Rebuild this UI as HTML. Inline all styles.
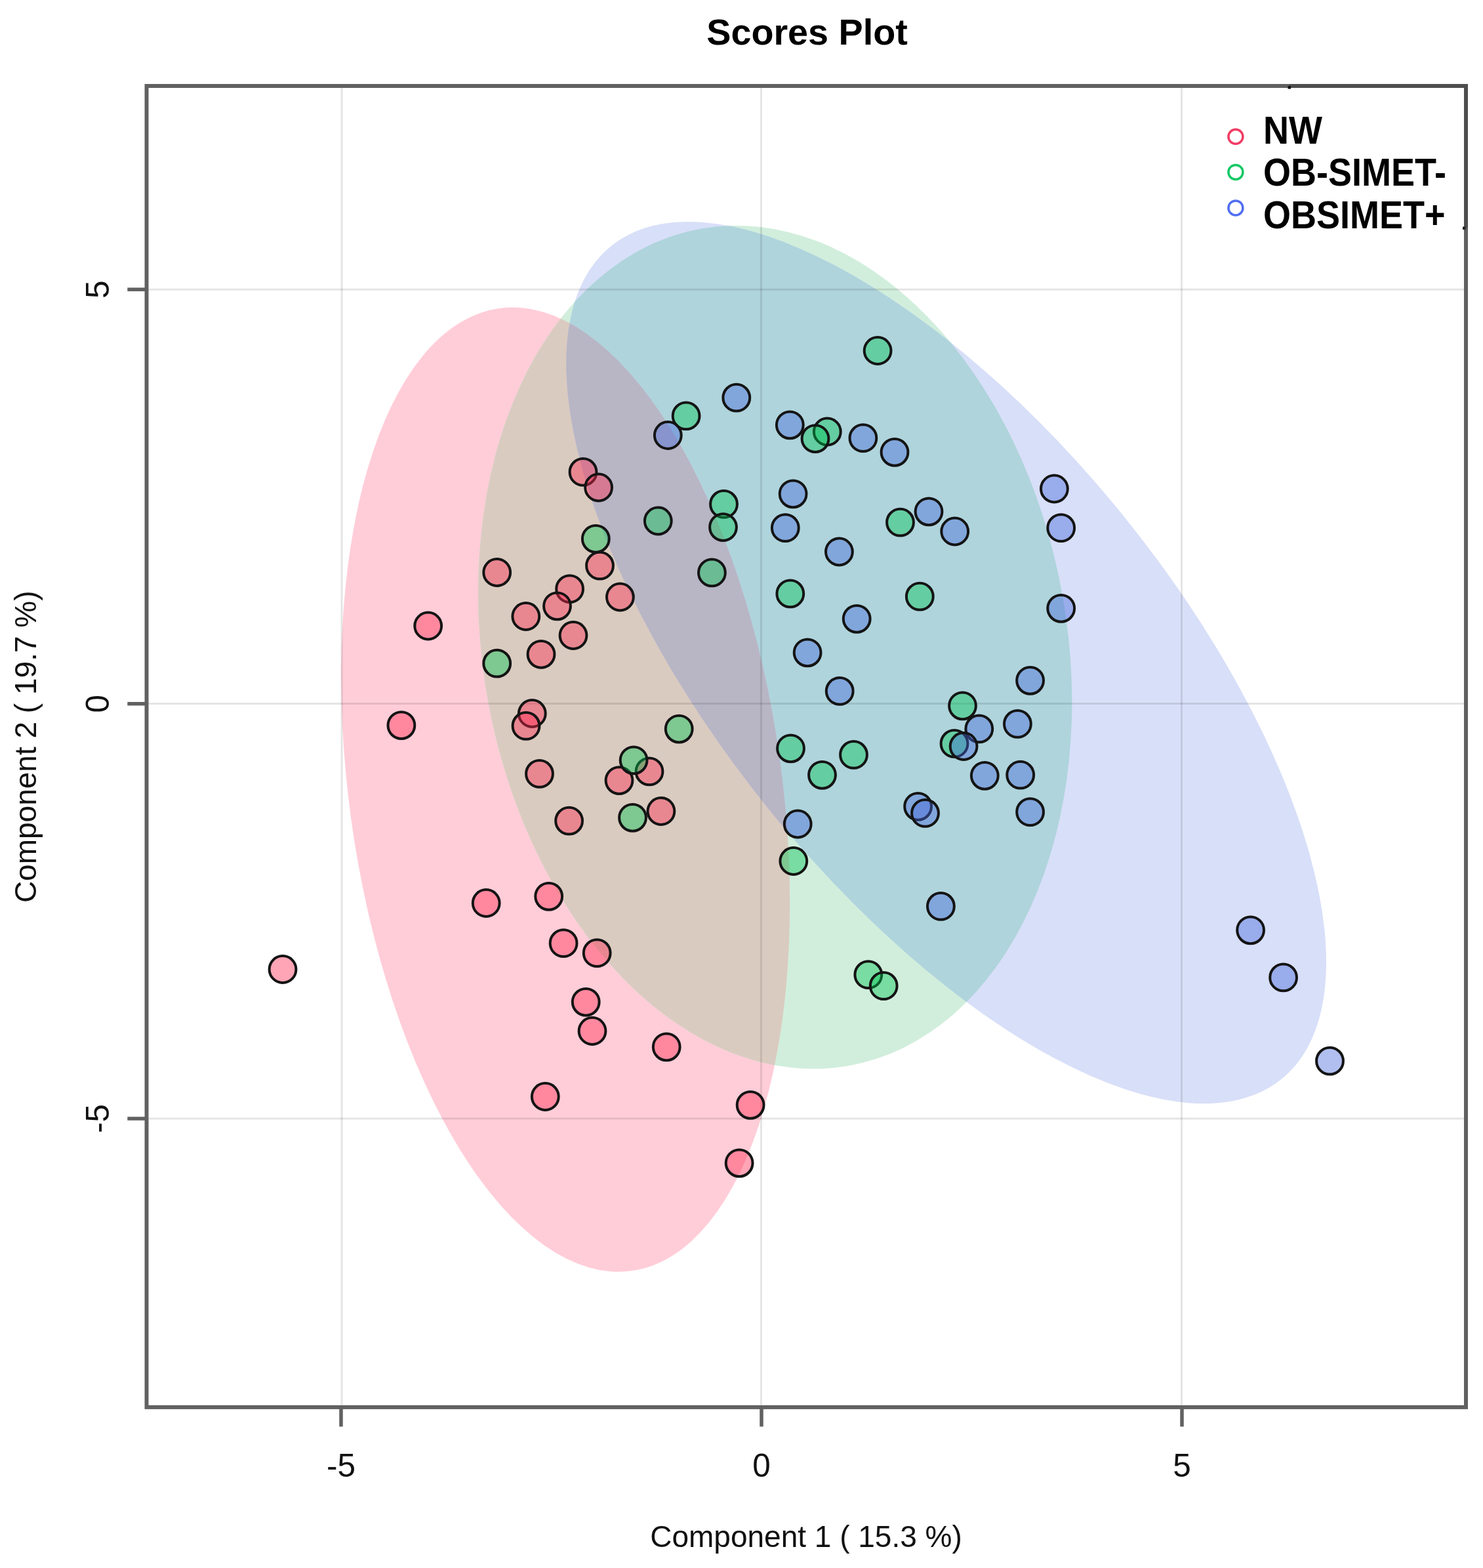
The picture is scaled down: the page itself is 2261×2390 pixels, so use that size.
<!DOCTYPE html>
<html><head><meta charset="utf-8"><title>Scores Plot</title><style>html,body{margin:0;padding:0;background:#fff;}svg{display:block;}</style></head>
<body>
<svg xmlns="http://www.w3.org/2000/svg" xmlns:xlink="http://www.w3.org/1999/xlink" width="2261" height="2390" viewBox="0 0 2261 2390">
<rect width="2261" height="2390" fill="#fff"/>
<defs>
<ellipse id="eP" cx="862.21" cy="1203.52" rx="329.93" ry="740.44" transform="rotate(172.184 862.21 1203.52)"/>
<ellipse id="eG" cx="1181.66" cy="986.52" rx="445.28" ry="647.75" transform="rotate(170.025 1181.66 986.52)"/>
<ellipse id="eB" cx="1442.65" cy="1010.04" rx="815.00" ry="350.79" transform="rotate(-128.809 1442.65 1010.04)"/>
<clipPath id="cP"><use href="#eP"/></clipPath><clipPath id="cG"><use href="#eG"/></clipPath>
</defs>
<use href="#eP" fill="#ffcdd8"/>
<use href="#eG" fill="#d1eedc"/>
<use href="#eB" fill="#d8dff8"/>
<g clip-path="url(#cP)"><use href="#eG" fill="#dacbc0"/></g>
<g clip-path="url(#cG)"><use href="#eB" fill="#afd4dc"/></g>
<g clip-path="url(#cP)"><use href="#eB" fill="#d8b8da"/></g>
<g clip-path="url(#cP)"><g clip-path="url(#cG)"><use href="#eB" fill="#b8b6c5"/></g></g>
<line x1="521" y1="131" x2="521" y2="2144.9" stroke="#000" stroke-opacity="0.1" stroke-width="3"/>
<line x1="1160.5" y1="131" x2="1160.5" y2="2144.9" stroke="#000" stroke-opacity="0.1" stroke-width="3"/>
<line x1="1801.5" y1="131" x2="1801.5" y2="2144.9" stroke="#000" stroke-opacity="0.1" stroke-width="3"/>
<line x1="223.5" y1="441.3" x2="2235" y2="441.3" stroke="#000" stroke-opacity="0.1" stroke-width="3"/>
<line x1="223.5" y1="1072.5" x2="2235" y2="1072.5" stroke="#000" stroke-opacity="0.1" stroke-width="3"/>
<line x1="223.5" y1="1705" x2="2235" y2="1705" stroke="#000" stroke-opacity="0.1" stroke-width="3"/>
<g stroke="#141414" stroke-width="4.0">
<circle cx="431" cy="1477.5" r="20.4" fill="#ff2951" fill-opacity="0.42"/>
<circle cx="611.9" cy="1105.6" r="20.4" fill="#ff2951" fill-opacity="0.42"/>
<circle cx="652.7" cy="954" r="20.4" fill="#ff2951" fill-opacity="0.42"/>
<circle cx="741.2" cy="1376.5" r="20.4" fill="#ff2951" fill-opacity="0.42"/>
<circle cx="757.7" cy="872.5" r="20.4" fill="#ff2951" fill-opacity="0.42"/>
<circle cx="801.8" cy="939.5" r="20.4" fill="#ff2951" fill-opacity="0.42"/>
<circle cx="811.3" cy="1087.5" r="20.4" fill="#ff2951" fill-opacity="0.42"/>
<circle cx="802" cy="1106.4" r="20.4" fill="#ff2951" fill-opacity="0.42"/>
<circle cx="825" cy="997.3" r="20.4" fill="#ff2951" fill-opacity="0.42"/>
<circle cx="822.5" cy="1179.4" r="20.4" fill="#ff2951" fill-opacity="0.42"/>
<circle cx="831.3" cy="1671.5" r="20.4" fill="#ff2951" fill-opacity="0.42"/>
<circle cx="836.7" cy="1366.3" r="20.4" fill="#ff2951" fill-opacity="0.42"/>
<circle cx="859.1" cy="1437.7" r="20.4" fill="#ff2951" fill-opacity="0.42"/>
<circle cx="868.6" cy="897.7" r="20.4" fill="#ff2951" fill-opacity="0.42"/>
<circle cx="849.5" cy="923.8" r="20.4" fill="#ff2951" fill-opacity="0.42"/>
<circle cx="874" cy="968.5" r="20.4" fill="#ff2951" fill-opacity="0.42"/>
<circle cx="867.6" cy="1251.2" r="20.4" fill="#ff2951" fill-opacity="0.42"/>
<circle cx="889" cy="719.4" r="20.4" fill="#ff2951" fill-opacity="0.42"/>
<circle cx="912.6" cy="743" r="20.4" fill="#ff2951" fill-opacity="0.42"/>
<circle cx="914.5" cy="862.2" r="20.4" fill="#ff2951" fill-opacity="0.42"/>
<circle cx="910.2" cy="1452.7" r="20.4" fill="#ff2951" fill-opacity="0.42"/>
<circle cx="893.2" cy="1527.3" r="20.4" fill="#ff2951" fill-opacity="0.42"/>
<circle cx="903" cy="1571.5" r="20.4" fill="#ff2951" fill-opacity="0.42"/>
<circle cx="945.4" cy="910" r="20.4" fill="#ff2951" fill-opacity="0.42"/>
<circle cx="944" cy="1189.6" r="20.4" fill="#ff2951" fill-opacity="0.42"/>
<circle cx="990" cy="1175.9" r="20.4" fill="#ff2951" fill-opacity="0.42"/>
<circle cx="1007.9" cy="1236.5" r="20.4" fill="#ff2951" fill-opacity="0.42"/>
<circle cx="1016.2" cy="1595.8" r="20.4" fill="#ff2951" fill-opacity="0.42"/>
<circle cx="1144.1" cy="1684.3" r="20.4" fill="#ff2951" fill-opacity="0.42"/>
<circle cx="1127.1" cy="1772.8" r="20.4" fill="#ff2951" fill-opacity="0.42"/>
<circle cx="757.7" cy="1011.2" r="20.4" fill="#00c352" fill-opacity="0.42"/>
<circle cx="908.3" cy="821.3" r="20.4" fill="#00c352" fill-opacity="0.42"/>
<circle cx="966.1" cy="1158.8" r="20.4" fill="#00c352" fill-opacity="0.42"/>
<circle cx="964.5" cy="1246.3" r="20.4" fill="#00c352" fill-opacity="0.42"/>
<circle cx="1003.3" cy="794" r="20.4" fill="#00c352" fill-opacity="0.42"/>
<circle cx="1035.2" cy="1111.1" r="20.4" fill="#00c352" fill-opacity="0.42"/>
<circle cx="1046.1" cy="633.9" r="20.4" fill="#00c352" fill-opacity="0.42"/>
<circle cx="1085.4" cy="872.9" r="20.4" fill="#00c352" fill-opacity="0.42"/>
<circle cx="1103.5" cy="768.4" r="20.4" fill="#00c352" fill-opacity="0.42"/>
<circle cx="1102.5" cy="803.6" r="20.4" fill="#00c352" fill-opacity="0.42"/>
<circle cx="1204.8" cy="904.9" r="20.4" fill="#00c352" fill-opacity="0.42"/>
<circle cx="1205.5" cy="1140.8" r="20.4" fill="#00c352" fill-opacity="0.42"/>
<circle cx="1209.8" cy="1312.5" r="20.4" fill="#00c352" fill-opacity="0.42"/>
<circle cx="1261.3" cy="658" r="20.4" fill="#00c352" fill-opacity="0.42"/>
<circle cx="1243" cy="668.6" r="20.4" fill="#00c352" fill-opacity="0.42"/>
<circle cx="1253.5" cy="1181.3" r="20.4" fill="#00c352" fill-opacity="0.42"/>
<circle cx="1301.5" cy="1150.4" r="20.4" fill="#00c352" fill-opacity="0.42"/>
<circle cx="1338.1" cy="534.5" r="20.4" fill="#00c352" fill-opacity="0.42"/>
<circle cx="1372.5" cy="796.2" r="20.4" fill="#00c352" fill-opacity="0.42"/>
<circle cx="1402.3" cy="909.2" r="20.4" fill="#00c352" fill-opacity="0.42"/>
<circle cx="1323.8" cy="1485.7" r="20.4" fill="#00c352" fill-opacity="0.42"/>
<circle cx="1347.2" cy="1502.7" r="20.4" fill="#00c352" fill-opacity="0.42"/>
<circle cx="1467.5" cy="1075.8" r="20.4" fill="#00c352" fill-opacity="0.42"/>
<circle cx="1455" cy="1133.4" r="20.4" fill="#00c352" fill-opacity="0.42"/>
<circle cx="1018.3" cy="663.5" r="20.4" fill="#4266da" fill-opacity="0.42"/>
<circle cx="1122.8" cy="606.2" r="20.4" fill="#4266da" fill-opacity="0.42"/>
<circle cx="1204.3" cy="647.8" r="20.4" fill="#4266da" fill-opacity="0.42"/>
<circle cx="1209.1" cy="752.8" r="20.4" fill="#4266da" fill-opacity="0.42"/>
<circle cx="1197.3" cy="804.7" r="20.4" fill="#4266da" fill-opacity="0.42"/>
<circle cx="1279.4" cy="841" r="20.4" fill="#4266da" fill-opacity="0.42"/>
<circle cx="1231.1" cy="994.8" r="20.4" fill="#4266da" fill-opacity="0.42"/>
<circle cx="1280.2" cy="1053.4" r="20.4" fill="#4266da" fill-opacity="0.42"/>
<circle cx="1306.2" cy="943.3" r="20.4" fill="#4266da" fill-opacity="0.42"/>
<circle cx="1315.9" cy="667.7" r="20.4" fill="#4266da" fill-opacity="0.42"/>
<circle cx="1364" cy="689.3" r="20.4" fill="#4266da" fill-opacity="0.42"/>
<circle cx="1416" cy="779.8" r="20.4" fill="#4266da" fill-opacity="0.42"/>
<circle cx="1455.7" cy="810" r="20.4" fill="#4266da" fill-opacity="0.42"/>
<circle cx="1216.2" cy="1256" r="20.4" fill="#4266da" fill-opacity="0.42"/>
<circle cx="1399.6" cy="1229.3" r="20.4" fill="#4266da" fill-opacity="0.42"/>
<circle cx="1410.5" cy="1239.4" r="20.4" fill="#4266da" fill-opacity="0.42"/>
<circle cx="1434.4" cy="1381.4" r="20.4" fill="#4266da" fill-opacity="0.42"/>
<circle cx="1492.8" cy="1110.9" r="20.4" fill="#4266da" fill-opacity="0.42"/>
<circle cx="1469.1" cy="1137.5" r="20.4" fill="#4266da" fill-opacity="0.42"/>
<circle cx="1501.3" cy="1182.3" r="20.4" fill="#4266da" fill-opacity="0.42"/>
<circle cx="1551.4" cy="1103.4" r="20.4" fill="#4266da" fill-opacity="0.42"/>
<circle cx="1555.7" cy="1181.2" r="20.4" fill="#4266da" fill-opacity="0.42"/>
<circle cx="1570.6" cy="1037.3" r="20.4" fill="#4266da" fill-opacity="0.42"/>
<circle cx="1570.6" cy="1237.7" r="20.4" fill="#4266da" fill-opacity="0.42"/>
<circle cx="1607.4" cy="745" r="20.4" fill="#4266da" fill-opacity="0.42"/>
<circle cx="1617.7" cy="804.7" r="20.4" fill="#4266da" fill-opacity="0.42"/>
<circle cx="1617.7" cy="927.3" r="20.4" fill="#4266da" fill-opacity="0.42"/>
<circle cx="1906.6" cy="1417.8" r="20.4" fill="#4266da" fill-opacity="0.42"/>
<circle cx="1956.6" cy="1489.9" r="20.4" fill="#4266da" fill-opacity="0.42"/>
<circle cx="2027.5" cy="1617.2" r="20.4" fill="#4266da" fill-opacity="0.42"/>
</g>
<rect x="223.5" y="131" width="2011.5" height="2013.9" fill="none" stroke="#616161" stroke-width="6"/>
<path d="M1966 131 H2235 V347" fill="none" stroke="#4e4e4e" stroke-width="6"/>
<line x1="520" y1="2144.9" x2="520" y2="2174.5" stroke="#616161" stroke-width="5.5"/>
<line x1="1161" y1="2144.9" x2="1161" y2="2174.5" stroke="#616161" stroke-width="5.5"/>
<line x1="1802" y1="2144.9" x2="1802" y2="2174.5" stroke="#616161" stroke-width="5.5"/>
<line x1="223.5" y1="441.2" x2="194.3" y2="441.2" stroke="#616161" stroke-width="5.5"/>
<line x1="223.5" y1="1072.7" x2="194.3" y2="1072.7" stroke="#616161" stroke-width="5.5"/>
<line x1="223.5" y1="1705" x2="194.3" y2="1705" stroke="#616161" stroke-width="5.5"/>
<rect x="1963.5" y="131" width="4.5" height="4.5" fill="#111"/>
<rect x="2230" y="345.5" width="4.5" height="4.5" fill="#222"/>
<text x="520" y="2251" font-family='"Liberation Sans", Arial, sans-serif' font-size="49.5" text-anchor="middle" fill="#111">-5</text>
<text x="1161" y="2251" font-family='"Liberation Sans", Arial, sans-serif' font-size="49.5" text-anchor="middle" fill="#111">0</text>
<text x="1802" y="2251" font-family='"Liberation Sans", Arial, sans-serif' font-size="49.5" text-anchor="middle" fill="#111">5</text>
<text transform="translate(166 441.2) rotate(-90)" font-family='"Liberation Sans", Arial, sans-serif' font-size="49.5" text-anchor="middle" fill="#111">5</text>
<text transform="translate(166 1072.7) rotate(-90)" font-family='"Liberation Sans", Arial, sans-serif' font-size="49.5" text-anchor="middle" fill="#111">0</text>
<text transform="translate(166 1705) rotate(-90)" font-family='"Liberation Sans", Arial, sans-serif' font-size="49.5" text-anchor="middle" fill="#111">-5</text>
<text x="1229" y="2358" font-family='"Liberation Sans", Arial, sans-serif' font-size="46" text-anchor="middle" fill="#111">Component 1 ( 15.3 %)</text>
<text transform="translate(55 1138.3) rotate(-90)" font-family='"Liberation Sans", Arial, sans-serif' font-size="46" text-anchor="middle" fill="#111">Component 2 ( 19.7 %)</text>
<text x="1230.5" y="68" font-family='"Liberation Sans", Arial, sans-serif' font-size="55.7" font-weight="bold" text-anchor="middle" fill="#000">Scores Plot</text>
<circle cx="1883.9" cy="208.3" r="11" fill="none" stroke="#f03c64" stroke-width="3.5"/>
<text transform="translate(1926 218.6) scale(0.9 1)" font-family='"Liberation Sans", Arial, sans-serif' font-size="60" font-weight="bold" fill="#000">NW</text>
<circle cx="1883.9" cy="262.4" r="11" fill="none" stroke="#14c864" stroke-width="3.5"/>
<text transform="translate(1926 282.9) scale(0.9 1)" font-family='"Liberation Sans", Arial, sans-serif' font-size="60" font-weight="bold" fill="#000">OB-SIMET-</text>
<circle cx="1883.9" cy="316.9" r="11" fill="none" stroke="#506ef0" stroke-width="3.5"/>
<text transform="translate(1926 347.5) scale(0.9 1)" font-family='"Liberation Sans", Arial, sans-serif' font-size="60" font-weight="bold" fill="#000">OBSIMET+</text>
</svg>
</body></html>
